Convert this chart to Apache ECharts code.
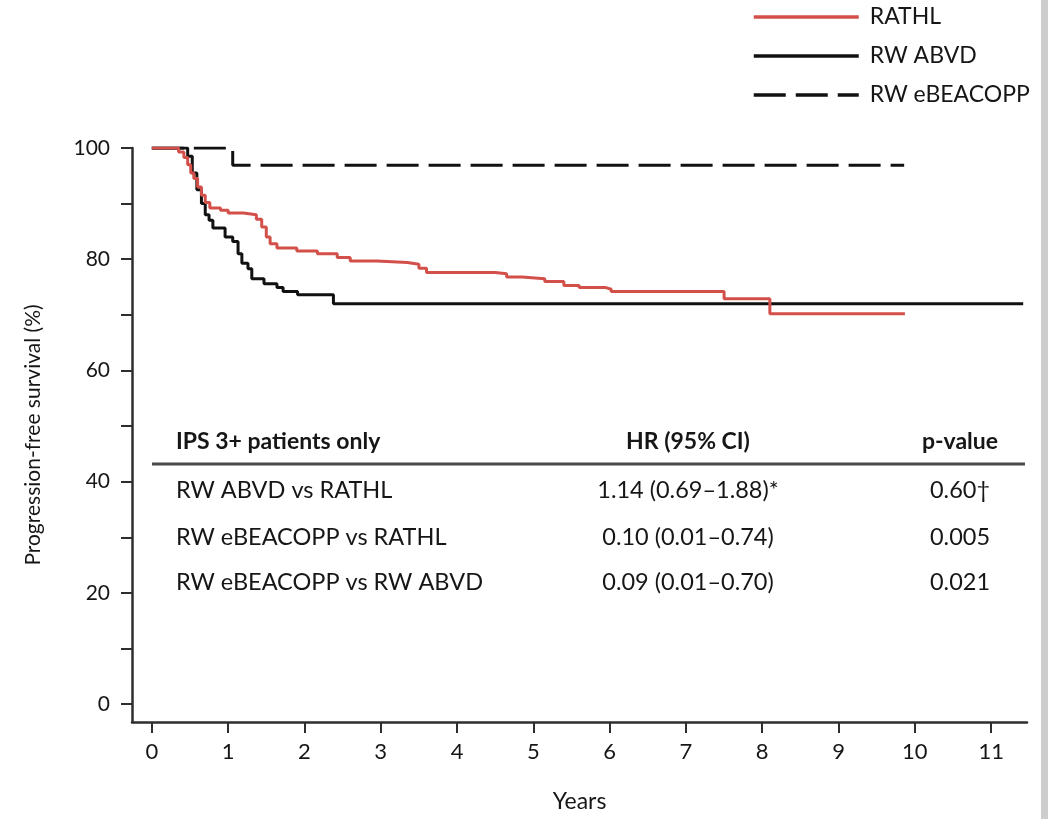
<!DOCTYPE html>
<html>
<head>
<meta charset="utf-8">
<script src="https://cdn.jsdelivr.net/npm/echarts@6/dist/echarts.min.js"></script>
<style>
  html, body { margin: 0; padding: 0; background: #fff; }
  #chart { width: 1048px; height: 819px; }
</style>
</head>
<body>
<div id="chart"></div>
<script>
// ---- Data ----
const seriesNames = ['RATHL', 'RW ABVD', 'RW eBEACOPP'];

const rathlTime = [0, 0.35, 0.42, 0.47, 0.51, 0.55, 0.6, 0.65, 0.7, 0.76, 0.9, 1.0, 1.2, 1.37, 1.44, 1.5, 1.55, 1.64, 1.9, 2.17, 2.43, 2.6, 2.95, 3.35, 3.5, 3.6, 4.5, 4.65, 4.85, 5.15, 5.4, 5.6, 5.95, 6.02, 7.5, 8.1, 9.87];
const rathlSurv = [100, 99.3, 98.3, 97, 95.5, 94.5, 93, 91.5, 90.2, 89.2, 88.8, 88.3, 88.0, 87.2, 85.8, 84, 82.8, 82, 81.5, 81.0, 80.3, 79.7, 79.4, 79.1, 78.4, 77.6, 77.4, 76.8, 76.5, 76.0, 75.3, 74.9, 74.6, 74.2, 72.9, 70.2, 70.2];

const abvdTime = [0, 0.47, 0.53, 0.59, 0.65, 0.70, 0.75, 0.80, 0.96, 1.06, 1.13, 1.18, 1.26, 1.31, 1.47, 1.64, 1.72, 1.91, 2.38, 11.42];
const abvdSurv = [100, 98.5, 95.5, 92.5, 90, 88, 87, 85.6, 84.0, 83.2, 81.0, 79.3, 78.3, 76.5, 75.6, 74.9, 74.2, 73.6, 72.0, 72.0];

const ebeaTime = [0, 1.06, 9.86];
const ebeaSurv = [100, 96.9, 96.9];

const xTickValues = [0, 1, 2, 3, 4, 5, 6, 7, 8, 9, 10, 11];
const yTickValues = [0, 10, 20, 30, 40, 50, 60, 70, 80, 90, 100];
const yLabelValues = [0, 20, 40, 60, 80, 100];

const tableHeader = ['IPS 3+ patients only', 'HR (95% CI)', 'p-value'];
const tableComparisons = ['RW ABVD vs RATHL', 'RW eBEACOPP vs RATHL', 'RW eBEACOPP vs RW ABVD'];
const tableHR = ['1.14 (0.69\u20131.88)*', '0.10 (0.01\u20130.74)', '0.09 (0.01\u20130.70)'];
const tableP = ['0.60\u2020', '0.005', '0.021'];

// ---- Build ----
const zip = (t, s) => t.map((v, i) => [v, s[i]]);
const FONT = 'Lato';
const TXT = '#161616';
const AX = '#2e2e2e';
const RED = '#d3504a';

const rowY = [490, 537, 582];
const graphics = [];
graphics.push({ type: 'rect', shape: { x: 1041, y: 0, width: 7, height: 819 }, style: { fill: '#cdcdcd' } });
graphics.push({ type: 'text', x: 176, y: 442, style: { text: tableHeader[0], font: '700 23px ' + FONT, fill: TXT, align: 'left', verticalAlign: 'middle' } });
graphics.push({ type: 'text', x: 688, y: 442, style: { text: tableHeader[1], font: '700 23px ' + FONT, fill: TXT, align: 'center', verticalAlign: 'middle' } });
graphics.push({ type: 'text', x: 960, y: 442, style: { text: tableHeader[2], font: '700 23px ' + FONT, fill: TXT, align: 'center', verticalAlign: 'middle' } });
graphics.push({ type: 'line', shape: { x1: 152, y1: 464, x2: 1025, y2: 464 }, style: { stroke: '#4a4a4a', lineWidth: 3 } });
tableComparisons.forEach((c, i) => {
  graphics.push({ type: 'text', x: 176, y: rowY[i], style: { text: c, font: '23.5px ' + FONT, fill: TXT, align: 'left', verticalAlign: 'middle' } });
  graphics.push({ type: 'text', x: 688, y: rowY[i], style: { text: tableHR[i], font: '23.5px ' + FONT, fill: TXT, align: 'center', verticalAlign: 'middle' } });
  graphics.push({ type: 'text', x: 960, y: rowY[i], style: { text: tableP[i], font: '23.5px ' + FONT, fill: TXT, align: 'center', verticalAlign: 'middle' } });
});

const chart = echarts.init(document.getElementById('chart'), null, { renderer: 'canvas' });
chart.setOption({
  backgroundColor: '#fff',
  animation: false,
  textStyle: { fontFamily: FONT },
  grid: { left: 132, right: 21, top: 148, bottom: 97, containLabel: false },
  legend: {
    orient: 'vertical',
    left: 752,
    top: 5,
    padding: 0,
    itemWidth: 105,
    itemHeight: 14,
    itemGap: 15,
    itemStyle: { opacity: 0 },
    lineStyle: { width: 3.5 },
    textStyle: { fontSize: 23, lineHeight: 24, color: TXT, fontFamily: FONT, padding: [0, 0, 0, 6] },
    data: seriesNames
  },
  xAxis: {
    type: 'value',
    min: -0.26,
    max: 11.47,
    name: 'Years',
    nameLocation: 'middle',
    nameGap: 68,
    nameTextStyle: { fontSize: 23, color: TXT, fontFamily: FONT },
    axisLine: { show: true, onZero: false, lineStyle: { color: AX, width: 2.5 } },
    axisTick: { show: true, inside: false, length: 11, customValues: xTickValues, lineStyle: { color: AX, width: 2 } },
    axisLabel: { customValues: xTickValues, margin: 19, fontSize: 22, color: TXT, fontFamily: FONT },
    splitLine: { show: false }
  },
  yAxis: {
    type: 'value',
    min: -3.2,
    max: 100,
    name: 'Progression-free survival (%)',
    nameLocation: 'middle',
    nameGap: 88,
    nameTextStyle: { fontSize: 21, color: TXT, fontFamily: FONT },
    axisLine: { show: true, onZero: false, lineStyle: { color: AX, width: 2.5 } },
    axisTick: { show: true, inside: false, length: 11, customValues: yTickValues, lineStyle: { color: AX, width: 2 } },
    axisLabel: { customValues: yLabelValues, margin: 22, fontSize: 21, color: TXT, fontFamily: FONT },
    splitLine: { show: false }
  },
  series: [
    {
      name: seriesNames[0], type: 'line', step: 'end', showSymbol: false, symbol: 'none', z: 3,
      data: zip(rathlTime, rathlSurv),
      itemStyle: { color: RED },
      lineStyle: { color: RED, width: 3 }
    },
    {
      name: seriesNames[1], type: 'line', step: 'end', showSymbol: false, symbol: 'none', z: 2,
      data: zip(abvdTime, abvdSurv),
      itemStyle: { color: '#111' },
      lineStyle: { color: '#111', width: 3 }
    },
    {
      name: seriesNames[2], type: 'line', step: 'end', showSymbol: false, symbol: 'none', z: 2,
      data: zip(ebeaTime, ebeaSurv),
      itemStyle: { color: '#111' },
      lineStyle: { color: '#111', width: 3, type: [32, 10] }
    }
  ],
  graphic: graphics
});
</script>
</body>
</html>
